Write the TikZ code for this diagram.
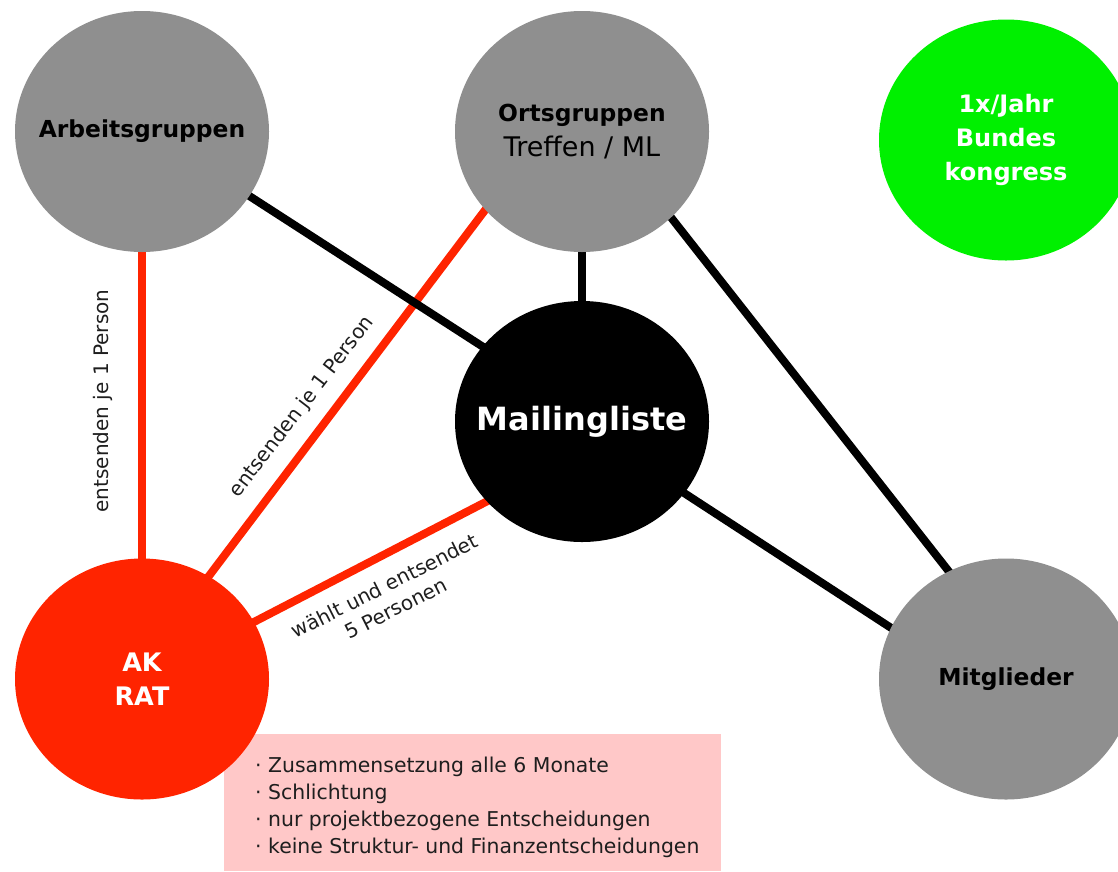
\documentclass[tikz,border=0pt]{standalone}
\usepackage{fontspec}
\setmainfont{DejaVu Sans}
\usetikzlibrary{shapes.geometric}
\pgfdeclarelayer{back}
\pgfdeclarelayer{bg}
\pgfsetlayers{back,bg,main}
\definecolor{cgray}{RGB}{143,143,143}
\definecolor{cred}{RGB}{255,36,0}
\definecolor{cgreen}{RGB}{0,240,0}
\definecolor{cpink}{RGB}{255,200,200}
\definecolor{ctext}{RGB}{30,30,30}
\begin{document}
\begin{tikzpicture}[x=1pt,y=-1pt,
  bubble/.style={ellipse, minimum width=254pt, minimum height=241pt, inner sep=0pt},
  graybub/.style={bubble, fill=cgray},
  bubtxt/.style={align=center, inner sep=0pt, text=black, font=\fontsize{23.4}{35}\selectfont\bfseries},
  redline/.style={draw=cred, line width=8pt, shorten <=-4pt, shorten >=-4pt},
  blackline/.style={draw=black, line width=8pt, shorten <=-4pt, shorten >=-4pt},
  lbl/.style={text=ctext, font=\fontsize{20}{25}\selectfont, inner sep=0pt, align=center}]
\useasboundingbox (0,0) rectangle (1118,871);
\begin{pgfonlayer}{back}
\fill[white] (0,0) rectangle (1118,871);
\end{pgfonlayer}

\node[fill=cpink, anchor=north west, minimum width=497pt, minimum height=137pt, inner sep=0pt] (box) at (224,734) {};
\node[anchor=north west, align=left, text=ctext, inner sep=0pt, font=\fontsize{20.4}{27}\selectfont] (boxtext) at (255,756.5)
  {· Zusammensetzung alle 6 Monate\\· Schlichtung\\· nur projektbezogene Entscheidungen\\· keine Struktur- und Finanzentscheidungen};

\node[graybub, label={[bubtxt]center:Arbeitsgruppen}] (arb) at (142,131.5) {};
\node[graybub, label={[bubtxt]center:Ortsgruppen\\\fontsize{27}{35}\selectfont\mdseries Treffen / ML}] (og) at (582,131.5) {};
\node[bubble, fill=cgreen, label={[bubtxt, text=white, font=\fontsize{24}{34}\selectfont\bfseries]center:1x/Jahr\\Bundes\\kongress}] (bk) at (1006,140) {};
\node[bubble, fill=black, label={[bubtxt, text=white, font=\fontsize{32}{40}\selectfont\bfseries]center:Mailingliste}] (ml) at (582,421.5) {};
\node[bubble, fill=cred, label={[bubtxt, text=white, font=\fontsize{25.5}{34}\selectfont\bfseries]center:AK\\RAT}] (ak) at (142,679) {};
\node[graybub, label={[bubtxt]center:Mitglieder}] (mit) at (1006,679) {};

\begin{pgfonlayer}{bg}
\draw[redline] (arb.south) -- (ak.north);
\draw[redline] (og.219.6) -- (ak.57.8);
\draw[redline] (ml.220.9) -- (ak.27.6);
\draw[blackline] (arb.-31.6) -- (ml.143.7);
\draw[blackline] (og.south) -- (ml.north);
\draw[blackline] (og.-44.5) -- (mit.118.9);
\draw[blackline] (ml.-35) -- (mit.156.4);
\end{pgfonlayer}

\node[lbl, rotate=90] (l1) at (103,401) {entsenden je 1 Person};
\node[lbl, rotate=52.5] (l2) at (302,407) {entsenden je 1 Person};
\node[lbl, rotate=26.7] (l3) at (390,597) {wählt und entsendet\\5 Personen};
\end{tikzpicture}
\end{document}
